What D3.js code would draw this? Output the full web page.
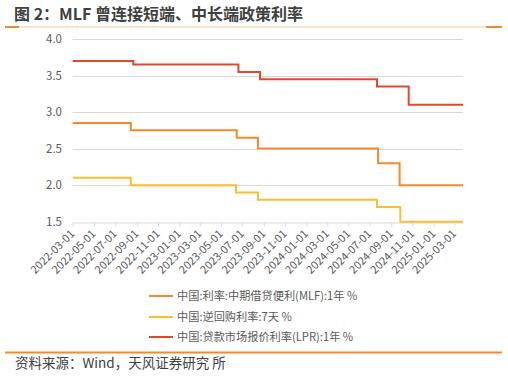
<!DOCTYPE html>
<html>
<head>
<meta charset="utf-8">
<script src="https://cdn.jsdelivr.net/npm/d3@7"></script>
<style>
  body { margin: 0; background: #fff; }
  svg text { font-family: "Microsoft YaHei", "Noto Sans CJK SC", "Liberation Sans", sans-serif; }
</style>
</head>
<body>
<div id="chart"></div>
<script>
// step dates (rate change days) and values
var mlfDates = ['2022-03-01', '2022-08-15', '2023-06-15', '2023-08-15', '2024-07-25', '2024-09-25', '2025-03-26'];
var mlfValues = [2.85, 2.75, 2.65, 2.50, 2.30, 2.00, 2.00];

var repoDates = ['2022-03-01', '2022-08-15', '2023-06-13', '2023-08-15', '2024-07-22', '2024-09-27', '2025-03-26'];
var repoValues = [2.10, 2.00, 1.90, 1.80, 1.70, 1.50, 1.50];

var lprDates = ['2022-03-01', '2022-08-22', '2023-06-20', '2023-08-21', '2024-07-22', '2024-10-21', '2025-03-26'];
var lprValues = [3.70, 3.65, 3.55, 3.45, 3.35, 3.10, 3.10];

var yTicks = [1.5, 2.0, 2.5, 3.0, 3.5, 4.0];
var xTickLabels = ['2022-03-01', '2022-05-01', '2022-07-01', '2022-09-01', '2022-11-01',
                   '2023-01-01', '2023-03-01', '2023-05-01', '2023-07-01', '2023-09-01',
                   '2023-11-01', '2024-01-01', '2024-03-01', '2024-05-01', '2024-07-01',
                   '2024-09-01', '2024-11-01', '2025-01-01', '2025-03-01'];

var seriesNames = ['中国:利率:中期借贷便利(MLF):1年 %', '中国:逆回购利率:7天 %', '中国:贷款市场报价利率(LPR):1年 %'];
var colors = ['#F58A2C', '#FBBF2D', '#E5472B'];

var width = 508;
var height = 376;

var parse = d3.timeParse('%Y-%m-%d');

var svg = d3.select('#chart')
  .append('svg')
    .attr('width', width)
    .attr('height', height);

// header rules
svg.append('line')
    .attr('x1', 5).attr('x2', 502).attr('y1', 27).attr('y2', 27)
    .attr('stroke', '#F8C79C').attr('stroke-width', 1);
svg.append('line')
    .attr('x1', 5).attr('x2', 19).attr('y1', 27).attr('y2', 27)
    .attr('stroke', '#F08A2E').attr('stroke-width', 2);
svg.append('line')
    .attr('x1', 486).attr('x2', 502).attr('y1', 27).attr('y2', 27)
    .attr('stroke', '#F08A2E').attr('stroke-width', 2);

// title
svg.append('text')
    .text('图 2：MLF 曾连接短端、中长端政策利率')
    .attr('x', 14)
    .attr('y', 20)
    .attr('font-size', '16px')
    .attr('font-weight', 'bold')
    .attr('fill', '#404040');

var x = d3.scaleTime()
    .domain([parse('2022-03-01'), parse('2025-03-26')])
    .range([72.7, 463]);

var y = d3.scaleLinear()
    .domain([1.5, 4.0])
    .range([221.7, 39]);

// y grid lines
svg.append('g')
    .selectAll('line.y-grid')
    .data(yTicks.slice(1))
  .enter()
    .append('line')
    .attr('class', 'y-grid')
    .attr('stroke', '#d9d9d9')
    .attr('stroke-width', 1)
    .attr('x1', x.range()[0])
    .attr('x2', x.range()[1])
    .attr('y1', function(d) { return Math.round(y(d)) + 0.5; })
    .attr('y2', function(d) { return Math.round(y(d)) + 0.5; });

// y labels
svg.append('g')
    .selectAll('text.y-grid')
    .data(yTicks)
  .enter()
    .append('text')
    .attr('font-size', '11.5px')
    .attr('font-family', '"Liberation Sans", Arial, sans-serif')
    .attr('fill', '#595959')
    .style('text-anchor', 'end')
    .text(function(d) { return d.toFixed(1); })
    .attr('x', 62)
    .attr('y', function(d) { return y(d) + 4; });

// x axis
var xAxis = d3.axisBottom(x)
    .tickValues(xTickLabels.map(parse))
    .tickSize(4)
    .tickSizeOuter(0)
    .tickFormat(d3.timeFormat('%Y-%m-%d'));

var gx = svg.append('g')
    .attr('transform', 'translate(0,' + (Math.round(y(1.5)) + 0.5) + ')')
    .call(xAxis);
gx.select('.domain').attr('stroke', '#d9d9d9');
gx.selectAll('.tick line').attr('stroke', '#d9d9d9');
gx.selectAll('.tick text')
    .attr('font-size', '11px')
    .attr('fill', '#595959')
    .attr('font-family', '"Liberation Sans", Arial, sans-serif')
    .style('text-anchor', 'end')
    .attr('dy', null)
    .attr('y', 0)
    .attr('x', 0)
    .attr('transform', 'translate(2,12) rotate(-45)');

// lines
var allSeries = [
    { dates: mlfDates, values: mlfValues },
    { dates: repoDates, values: repoValues },
    { dates: lprDates, values: lprValues }
];

var line = d3.line()
    .curve(d3.curveStepAfter)
    .x(function(d) { return x(d.date); })
    .y(function(d) { return y(d.value); });

allSeries.forEach(function(s, i) {
    var pts = s.dates.map(function(dt, j) {
        return { date: parse(dt), value: s.values[j] };
    });
    svg.append('path')
        .datum(pts)
        .attr('fill', 'none')
        .attr('stroke', colors[i])
        .attr('stroke-width', 2)
        .attr('d', line);
});

// legend
var legend = svg.append('g')
    .selectAll('g.legend')
    .data(seriesNames)
  .enter()
    .append('g')
    .attr('transform', function(d, i) {
        return 'translate(149,' + [296, 317, 337][i] + ')';
    });
legend.append('line')
    .attr('x1', 0).attr('x2', 24).attr('y1', 0).attr('y2', 0)
    .attr('stroke', function(d, i) { return colors[i]; })
    .attr('stroke-width', 2);
legend.append('text')
    .text(function(d) { return d; })
    .attr('x', 28)
    .attr('y', 4)
    .attr('font-size', '11.2px')
    .attr('fill', '#595959');

// footer
svg.append('line')
    .attr('x1', 5).attr('x2', 502).attr('y1', 352.5).attr('y2', 352.5)
    .attr('stroke', '#F08A2E').attr('stroke-width', 2);
svg.append('text')
    .text('资料来源：Wind，天风证券研究 所')
    .attr('x', 15)
    .attr('y', 368)
    .attr('font-size', '13.5px')
    .attr('fill', '#404040');
</script>
</body>
</html>
